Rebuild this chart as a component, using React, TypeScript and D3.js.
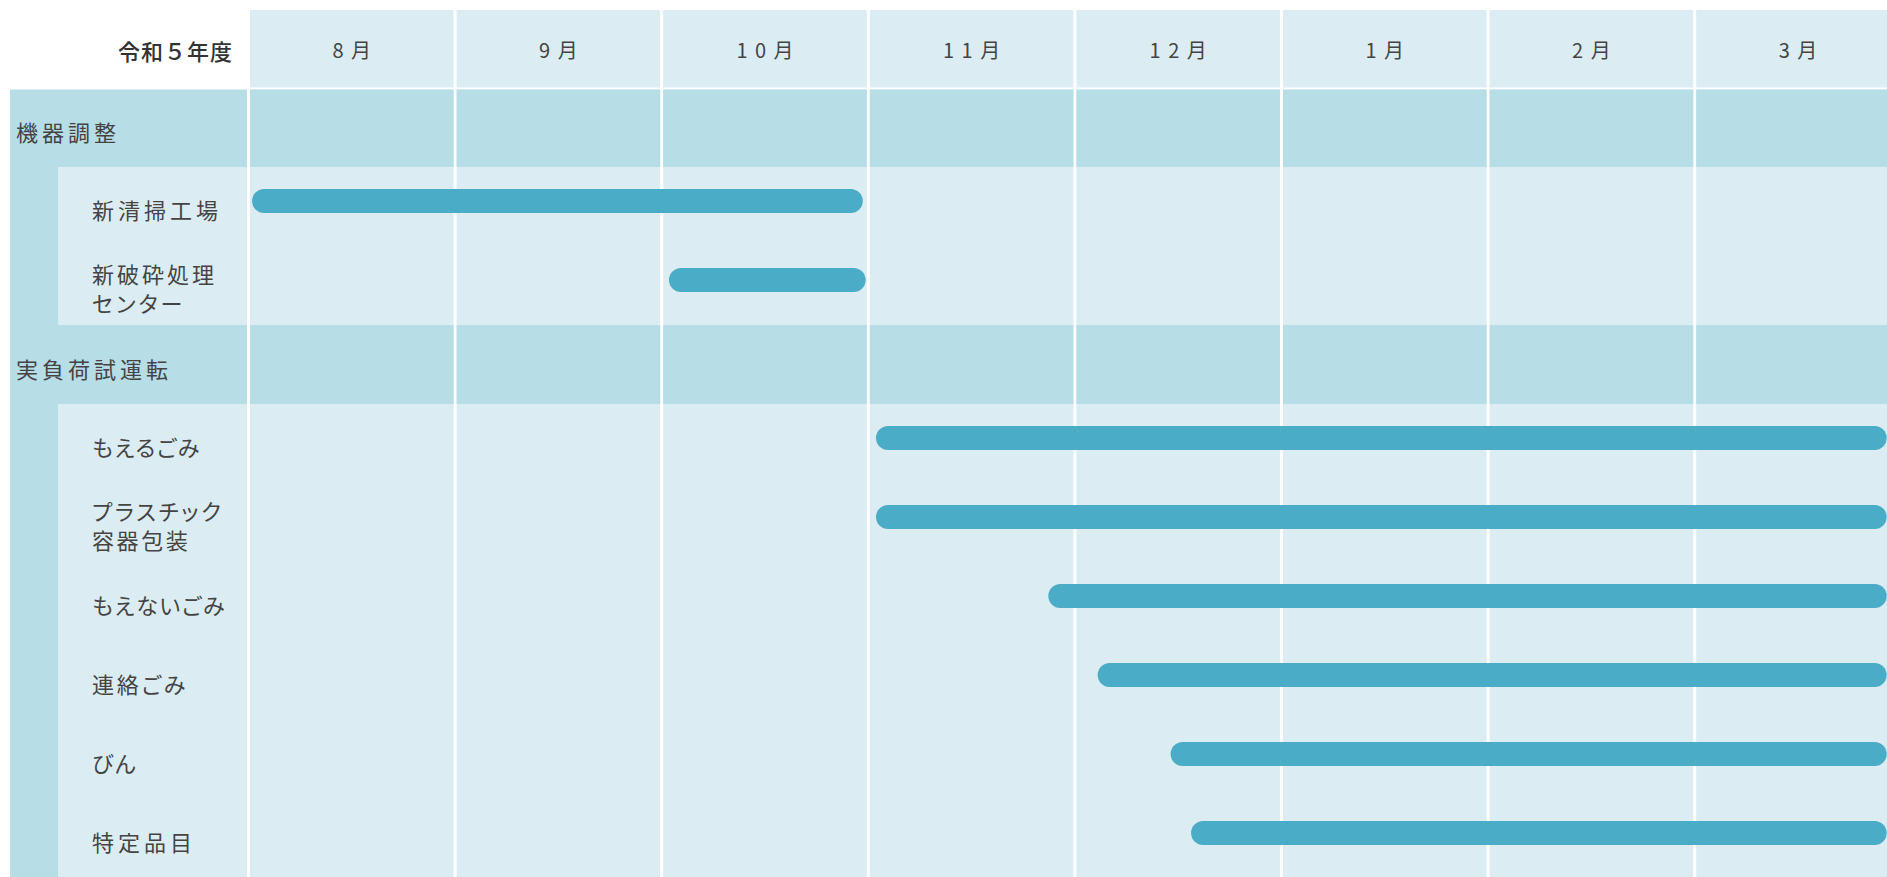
import React from 'react';
import * as d3 from 'd3';

// 令和5年度 schedule (months counted from Aug 1 → 0)
const yearLabel = '令和５年度';
const months = ['8月', '9月', '10月', '11月', '12月', '1月', '2月', '3月'];

const categories = ['機器調整', '実負荷試運転'];

// item label lines, category index, start / end in month units
const itemLabels = [
  ['新清掃工場'],
  ['新破砕処理', 'センター'],
  ['もえるごみ'],
  ['プラスチック', '容器包装'],
  ['もえないごみ'],
  ['連絡ごみ'],
  ['びん'],
  ['特定品目'],
];
const itemCategory = [0, 0, 1, 1, 1, 1, 1, 1];
const itemStart = [0.01, 2.028, 3.03, 3.03, 3.864, 4.103, 4.456, 4.555];
const itemEnd = [2.966, 2.98, 7.922, 7.922, 7.922, 7.922, 7.922, 7.922];

const W = 1887;
const H = 877;
const FONT = "'Noto Sans CJK JP', 'Noto Sans', sans-serif";
const LIGHT = '#dbedf3';
const DARK = '#b7dde7';
const BAR = '#4aacc6';
const TEXT = '#444';
const LABEL_SIZE = 22;
const LINE = 28.5;

// kanji get a bit more tracking than kana, like the original font
function tracking(s: string) {
  const chars = Array.from(s);
  const k = chars.filter(ch => /[\u4e00-\u9fff]/.test(ch)).length / chars.length;
  return 1.7 + 2.3 * k;
}

export default function App() {
  const x = d3.scaleLinear().domain([0, 8]).range([250, 250 + 8 * 206.6]);

  // build row list: category row then its items
  const rows: { type: 'cat' | 'item'; idx: number; y: number; h: number }[] = [];
  let y = 89.5;
  categories.forEach((c, ci) => {
    const h = ci === 0 ? 77.5 : 79;
    rows.push({ type: 'cat', idx: ci, y, h });
    y += h;
    itemLabels.forEach((_, ii) => {
      if (itemCategory[ii] !== ci) return;
      rows.push({ type: 'item', idx: ii, y, h: 79 });
      y += 79;
    });
  });

  const groups = categories.map((_, ci) => {
    const r = rows.filter(d => d.type === 'item' && itemCategory[d.idx] === ci);
    return { y0: r[0].y, y1: r[r.length - 1].y + r[r.length - 1].h };
  });

  const palt = { fontFeatureSettings: '"palt"' };
  const monthLs = 7.5;

  return (
    <div>
      <style>{'body{margin:0;overflow:hidden}'}</style>
      <svg width={W} height={H} style={{ display: 'block' }} fontFamily={FONT}>
        <rect width={W} height={H} fill="#fff" />

        {/* month columns */}
        {months.map((m, i) => {
          const x0 = x(i);
          const w = x(i + 1) - x(i) - 3;
          return (
            <g key={m}>
              <rect x={x0} y={10} width={w} height={77.5} fill={LIGHT} />
              <rect x={x0} y={89.5} width={w} height={H} fill={LIGHT} />
              {rows.filter(r => r.type === 'cat').map(r => (
                <rect key={r.idx} x={x0} y={r.y} width={w} height={r.h} fill={DARK} />
              ))}
              <text x={x0 + w / 2 + monthLs / 2} y={49.5} textAnchor="middle" dominantBaseline="central"
                fontSize={20} letterSpacing={monthLs} fill={TEXT}>{m}</text>
            </g>
          );
        })}

        {/* header left cell */}
        <text x={233} y={49.5} textAnchor="end" dominantBaseline="central" fontSize={22}
          fontWeight={500} letterSpacing={1} fill="#333">{yearLabel}</text>

        {/* left label column */}
        <rect x={10} y={89.5} width={237} height={H} fill={DARK} />
        {groups.map((g, i) => (
          <rect key={i} x={58} y={g.y0} width={189} height={g.y1 - g.y0} fill={LIGHT} />
        ))}

        {rows.map(r => {
          if (r.type === 'cat') {
            const s = categories[r.idx];
            return (
              <text key={'c' + r.idx} x={16} y={r.y + r.h / 2 + 3} dominantBaseline="central"
                fontSize={LABEL_SIZE} letterSpacing={tracking(s)} fill={TEXT} style={palt}>{s}</text>
            );
          }
          const lines = itemLabels[r.idx];
          const cy = r.y + r.h / 2 + 2 - ((lines.length - 1) / 2) * LINE;
          return (
            <g key={'i' + r.idx}>
              <text x={92} y={cy} dominantBaseline="central" fontSize={LABEL_SIZE}
                letterSpacing={tracking(lines.join(''))} fill={TEXT} style={palt}>
                {lines.map((l, li) => (
                  <tspan key={li} x={92} y={cy + li * LINE}>{l}</tspan>
                ))}
              </text>
              <rect x={x(itemStart[r.idx])} y={r.y + 34 - 12}
                width={x(itemEnd[r.idx]) - x(itemStart[r.idx])} height={24}
                rx={12} fill={BAR} />
            </g>
          );
        })}
      </svg>
    </div>
  );
}
